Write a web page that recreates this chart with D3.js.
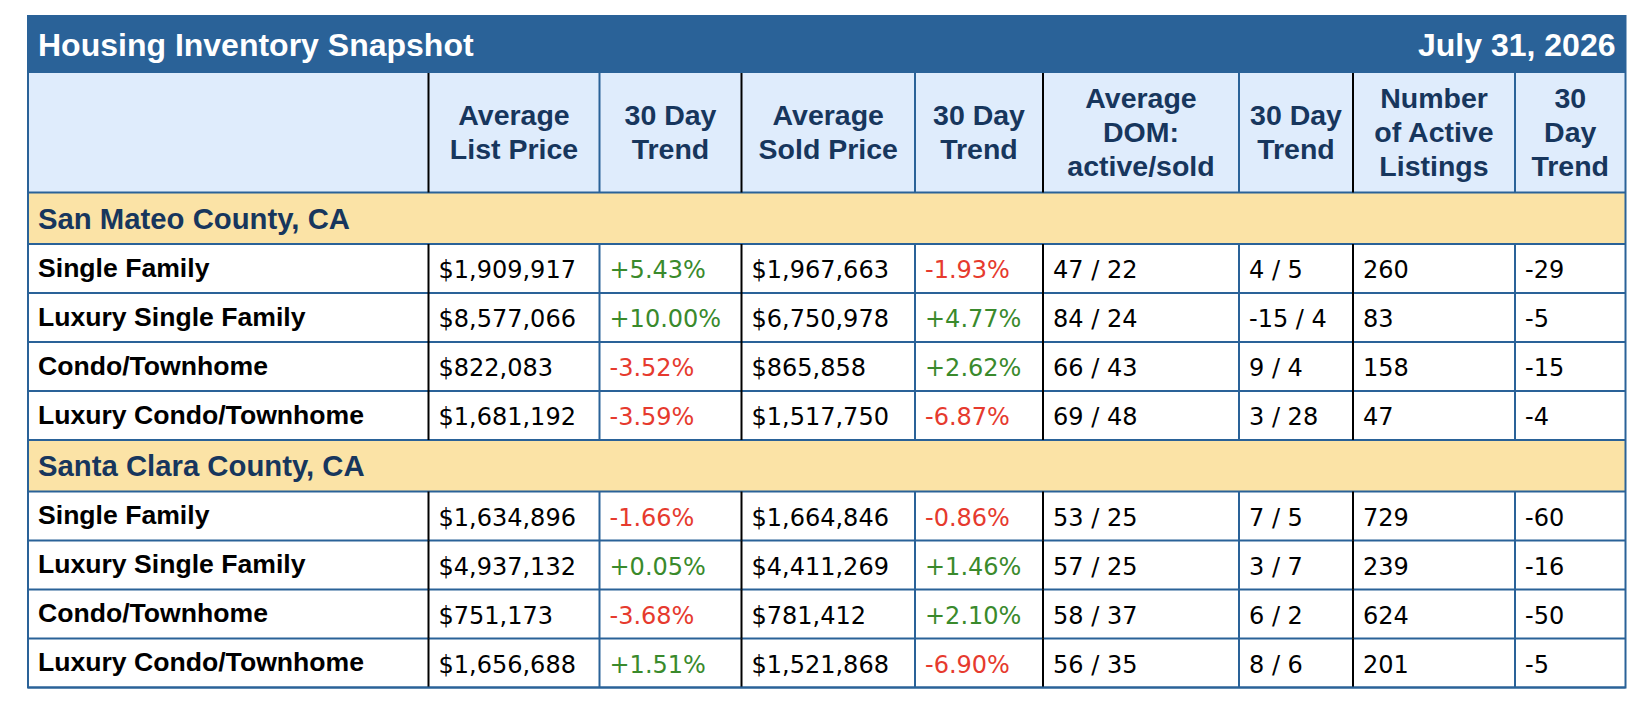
<!DOCTYPE html>
<html>
<head>
<meta charset="utf-8">
<script src="https://cdn.jsdelivr.net/npm/d3@7/dist/d3.min.js"></script>
<style>
	html, body { margin: 0; padding: 0; background: #fff; }
	svg { display: block; }
</style>
</head>
<body>
<svg id="snapshot" width="1650" height="716"></svg>
<script>
"use strict";

var chartTitle = "Housing Inventory Snapshot";
var snapshotDate = "July 31, 2026";
var regions = ["San Mateo County, CA", "Santa Clara County, CA"];
var propertyTypes = ["Single Family", "Luxury Single Family", "Condo/Townhome", "Luxury Condo/Townhome"];
var columnHeaders = [
	[],
	["Average", "List Price"],
	["30 Day", "Trend"],
	["Average", "Sold Price"],
	["30 Day", "Trend"],
	["Average", "DOM:", "active/sold"],
	["30 Day", "Trend"],
	["Number", "of Active", "Listings"],
	["30", "Day", "Trend"]
];

var avgListPrice = [[1909917, 8577066, 822083, 1681192], [1634896, 4937132, 751173, 1656688]];
var listPriceTrend = [[5.43, 10.00, -3.52, -3.59], [-1.66, 0.05, -3.68, 1.51]];
var avgSoldPrice = [[1967663, 6750978, 865858, 1517750], [1664846, 4411269, 781412, 1521868]];
var soldPriceTrend = [[-1.93, 4.77, 2.62, -6.87], [-0.86, 1.46, 2.10, -6.90]];
var domActive = [[47, 84, 66, 69], [53, 57, 58, 56]];
var domSold = [[22, 24, 43, 48], [25, 25, 37, 35]];
var domTrendActive = [[4, -15, 9, 3], [7, 3, 6, 8]];
var domTrendSold = [[5, 4, 4, 28], [5, 7, 2, 6]];
var activeListings = [[260, 83, 158, 47], [729, 239, 624, 201]];
var listingsTrend = [[-29, -5, -15, -4], [-60, -16, -50, -5]];

// layout
var colEdges = [28, 428.5, 599.5, 741.5, 915, 1043, 1239, 1353, 1515, 1625.5];
var blackEdges = [1, 3, 5, 7];
var titleTop = 16, titleH = 57, headerH = 119.5, sectionH = 51.5, rowH = 49;

var blue = "#2a6298", navy = "#17365d", headBg = "#dfecfc", sectionBg = "#fbe3a6";
var green = "#3a8a2c", red = "#e63a2e";
var labelFont = "'Liberation Sans', Arial, sans-serif";
var dataFont = "'DejaVu Sans', Verdana, sans-serif";

var locale = d3.formatLocale({ decimal: ".", thousands: ",", grouping: [3], currency: ["$", ""], minus: "-" });
var fmtMoney = locale.format("$,");
var fmtTrend = locale.format("+.2f");
var fmtInt = locale.format("d");

var svg = d3.select("#snapshot");
var x = d3.scaleOrdinal().domain(d3.range(colEdges.length)).range(colEdges);
var left = x(0), right = x(colEdges.length - 1);

function buildRows() {
	var rows = [];
	var y = titleTop + titleH + headerH;
	for (var r = 0; r < regions.length; r++) {
		rows.push({ type: "section", label: regions[r], y: y, h: sectionH });
		y += sectionH;
		for (var p = 0; p < propertyTypes.length; p++) {
			rows.push({ type: "data", label: propertyTypes[p], y: y, h: rowH, cells: buildCells(r, p) });
			y += rowH;
		}
	}
	return rows;
}

function buildCells(r, p) {
	return [
		{ text: fmtMoney(avgListPrice[r][p]), color: "#000" },
		{ text: fmtTrend(listPriceTrend[r][p]) + "%", color: listPriceTrend[r][p] < 0 ? red : green },
		{ text: fmtMoney(avgSoldPrice[r][p]), color: "#000" },
		{ text: fmtTrend(soldPriceTrend[r][p]) + "%", color: soldPriceTrend[r][p] < 0 ? red : green },
		{ text: domActive[r][p] + " / " + domSold[r][p], color: "#000" },
		{ text: fmtInt(domTrendActive[r][p]) + " / " + fmtInt(domTrendSold[r][p]), color: "#000" },
		{ text: fmtInt(activeListings[r][p]), color: "#000" },
		{ text: fmtInt(listingsTrend[r][p]), color: "#000" }
	];
}

var rows = buildRows();
var headerTop = titleTop + titleH;
var bottom = rows[rows.length - 1].y + rowH;

// title bar
svg.append("rect").attr("x", left).attr("y", titleTop).attr("width", right - left).attr("height", titleH).attr("fill", blue);
svg.append("text").attr("x", left + 10).attr("y", titleTop + titleH / 2 + 11)
	.attr("fill", "#fff").attr("font-family", labelFont).attr("font-weight", "bold").attr("font-size", 32)
	.text(chartTitle);
svg.append("text").attr("x", right - 10).attr("y", titleTop + titleH / 2 + 11).attr("text-anchor", "end")
	.attr("fill", "#fff").attr("font-family", labelFont).attr("font-weight", "bold").attr("font-size", 32)
	.text(snapshotDate);

// header row
svg.append("rect").attr("x", left).attr("y", headerTop).attr("width", right - left).attr("height", headerH).attr("fill", headBg);
var headCenter = headerTop + headerH / 2;
var head = svg.append("g").attr("class", "head");
columnHeaders.forEach(function (lines, i) {
	if (!lines.length) return;
	var cx = (x(i) + x(i + 1)) / 2;
	var t = head.append("text").attr("text-anchor", "middle").attr("fill", navy)
		.attr("font-family", labelFont).attr("font-weight", "bold").attr("font-size", 28.5);
	lines.forEach(function (line, k) {
		t.append("tspan").attr("x", cx)
			.attr("y", headCenter + (k - (lines.length - 1) / 2) * 33.8 + 9)
			.text(line);
	});
});

// body rows
var rowG = svg.append("g").selectAll("g").data(rows).join("g")
	.attr("transform", function (d) { return "translate(0," + d.y + ")"; });

rowG.append("rect").attr("x", left).attr("width", right - left)
	.attr("height", function (d) { return d.h; })
	.attr("fill", function (d) { return d.type == "section" ? sectionBg : "#fff"; });

rowG.append("text").attr("x", left + 10)
	.attr("y", function (d) { return d.h / 2 + (d.type == "section" ? 10.5 : 8); })
	.attr("font-family", labelFont).attr("font-weight", "bold")
	.attr("font-size", function (d) { return d.type == "section" ? 29.3 : 26.6; })
	.attr("fill", function (d) { return d.type == "section" ? navy : "#000"; })
	.text(function (d) { return d.label; });

rowG.filter(function (d) { return d.type == "data"; })
	.selectAll("text.val").data(function (d) { return d.cells; }).join("text")
	.attr("class", "val")
	.attr("x", function (d, i) { return x(i + 1) + 10; })
	.attr("y", rowH / 2 + 9.5)
	.attr("font-family", dataFont).attr("font-size", 24)
	.attr("fill", function (d) { return d.color; })
	.text(function (d) { return d.text; });

// grid: horizontal lines
var hLines = [headerTop + headerH].concat(rows.map(function (d) { return d.y + d.h; }));
svg.append("g").selectAll("line").data(hLines).join("line")
	.attr("x1", left).attr("x2", right)
	.attr("y1", function (d) { return d; }).attr("y2", function (d) { return d; })
	.attr("stroke", blue).attr("stroke-width", 2);

// grid: vertical lines in header and data rows only, section rows span the table
var spans = [{ y: headerTop, h: headerH }].concat(rows.filter(function (d) { return d.type == "data"; }));
var inner = d3.range(1, colEdges.length - 1);
var vg = svg.append("g");
spans.forEach(function (s) {
	vg.selectAll(null).data(inner).join("line")
		.attr("x1", function (i) { return x(i); }).attr("x2", function (i) { return x(i); })
		.attr("y1", s.y).attr("y2", s.y + s.h)
		.attr("stroke", function (i) { return blackEdges.indexOf(i) >= 0 ? "#000" : blue; })
		.attr("stroke-width", 2);
});

// outer border
svg.append("rect").attr("x", left).attr("y", titleTop).attr("width", right - left).attr("height", bottom - titleTop)
	.attr("fill", "none").attr("stroke", blue).attr("stroke-width", 2);
</script>
</body>
</html>
